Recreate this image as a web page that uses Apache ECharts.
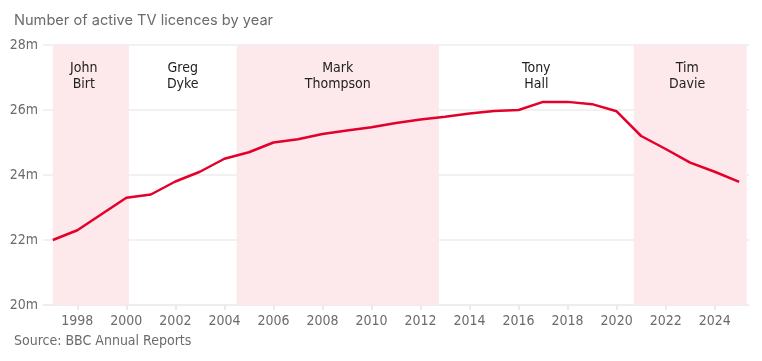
<!DOCTYPE html>
<html>
<head>
<meta charset="utf-8">
<script src="https://cdn.jsdelivr.net/npm/echarts@6/dist/echarts.min.js"></script>
<style>
html,body{margin:0;padding:0;background:#fff;}
#c{width:762px;height:361px;}
</style>
</head>
<body>
<div id="c"></div>
<script>
const years = [1997,1998,1999,2000,2001,2002,2003,2004,2005,2006,2007,2008,2009,2010,2011,2012,2013,2014,2015,2016,2017,2018,2019,2020,2021,2022,2023,2024,2025];
const licences = [22.0,22.3,22.8,23.3,23.4,23.8,24.1,24.5,24.7,25.0,25.1,25.26,25.37,25.47,25.6,25.71,25.79,25.89,25.97,26.0,26.25,26.25,26.18,25.96,25.2,24.8,24.38,24.1,23.79];
const xTickLabels = [1998,2000,2002,2004,2006,2008,2010,2012,2014,2016,2018,2020,2022,2024];
const yTicks = [20,22,24,26,28];
const eraNames = ['John\nBirt','Greg\nDyke','Mark\nThompson','Tony\nHall','Tim\nDavie'];
const eraStart = [1997,2000.1,2004.5,2012.75,2020.7];
const eraEnd = [2000.1,2004.5,2012.75,2020.7,2025.3];
const eraShaded = [true,false,true,false,true];
const eraLabelShift = [-7,0,0,0,-3];

const condensed = '"Liberation Sans Narrow","DejaVu Sans Condensed","Roboto",sans-serif';

const chart = echarts.init(document.getElementById('c'), null, {renderer:'canvas'});
chart.setOption({
  animation:false,
  title:{
    text:'Number of active TV licences by year',
    left:9, top:8,
    textStyle:{fontFamily:'Inter, "Open Sans", sans-serif', fontSize:14.6, fontWeight:'normal', color:'#6b6b6b'}
  },
  graphic:[{
    type:'text', left:14, top:334,
    style:{text:'Source: BBC Annual Reports', fill:'#6b6b6b', font:'14px ' + condensed}
  }],
  grid:{left:43, right:13, top:45, bottom:56},
  xAxis:{
    type:'value', min:1996.6, max:2025.4,
    axisLine:{show:true, lineStyle:{color:'#ebebeb', width:1.5}},
    axisTick:{show:true, customValues:xTickLabels, length:5, lineStyle:{color:'#e3e3e3', width:1.5}},
    axisLabel:{customValues:xTickLabels, color:'#6b6b6b', fontFamily:condensed, fontSize:14, margin:9, formatter:v=>String(v)},
    splitLine:{show:false}
  },
  yAxis:{
    type:'value', min:20, max:28, interval:2,
    axisLine:{show:false}, axisTick:{show:false},
    axisLabel:{color:'#6b6b6b', fontFamily:condensed, fontSize:14, margin:5, formatter:v=>v+'m'},
    splitLine:{lineStyle:{color:'#ececec', width:1.5}}
  },
  series:[{
    type:'line',
    data: years.map((y,i)=>[y, licences[i]]),
    symbol:'none',
    lineStyle:{color:'#e4002b', width:2.5},
    z:5,
    markArea:{
      silent:true,
      data: eraNames.map((n,i)=>[
        {xAxis:eraStart[i], yAxis:28, name:n,
         itemStyle:{color: eraShaded[i] ? '#fde8eb' : 'rgba(0,0,0,0)'},
         label:{show:true, position:'insideTop', distance:15, offset:[eraLabelShift[i],0], color:'#222', fontFamily:condensed, fontSize:14, lineHeight:16, align:'center'}},
        {xAxis:eraEnd[i], yAxis:20}
      ])
    }
  }]
});
</script>
</body>
</html>
